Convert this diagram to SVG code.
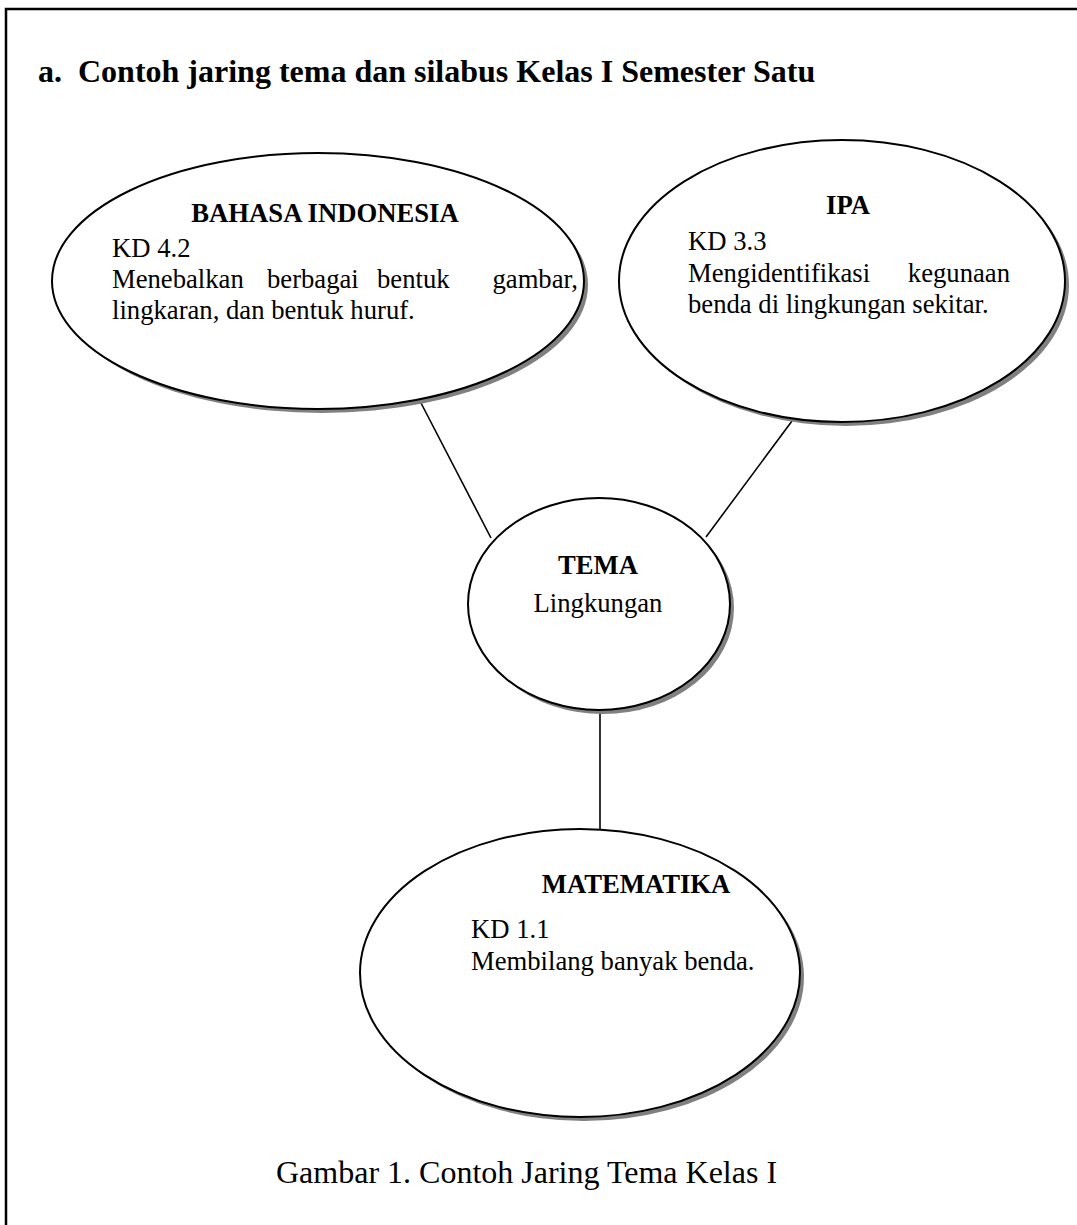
<svg xmlns="http://www.w3.org/2000/svg" width="1077" height="1225" viewBox="0 0 1077 1225">
<defs>
<style>
.t{font-family:"Liberation Serif","Times New Roman",serif;fill:#000}
.b{font-weight:bold;font-size:26.67px}
.r{font-size:26.67px}
.sh{fill:#808080;stroke:none}
.el{fill:#fff;stroke:#000;stroke-width:2}
.cn{stroke:#000;stroke-width:1.6;fill:none}
</style>
</defs>
<rect x="0" y="0" width="1077" height="1225" fill="#fff"/>
<path d="M6,1225 V9 H1077" fill="none" stroke="#000" stroke-width="2.5"/>
<text class="t" x="38" y="82" font-size="32" font-weight="bold" xml:space="preserve">a.  Contoh jaring tema dan silabus Kelas I Semester Satu</text>
<g id="connectors">
<line class="cn" x1="421" y1="403" x2="491" y2="538"/>
<line class="cn" x1="792" y1="421" x2="706" y2="537"/>
<line class="cn" x1="600" y1="710" x2="600" y2="829"/>
</g>
<g id="bahasa">
<ellipse class="sh" cx="322" cy="285" rx="266" ry="128"/>
<ellipse class="el" cx="318" cy="281" rx="266" ry="128"/>
<text class="t b" x="325" y="222" text-anchor="middle">BAHASA INDONESIA</text>
<text class="t r" x="112" y="257">KD 4.2</text>
<text class="t r" y="288"><tspan x="112">Menebalkan</tspan><tspan x="267">berbagai</tspan><tspan x="377">bentuk</tspan><tspan x="578" text-anchor="end">gambar,</tspan></text>
<text class="t r" x="112" y="319">lingkaran, dan bentuk huruf.</text>
</g>
<g id="ipa">
<ellipse class="sh" cx="846" cy="285" rx="223" ry="141"/>
<ellipse class="el" cx="842" cy="281" rx="223" ry="141"/>
<text class="t b" x="848" y="214" text-anchor="middle">IPA</text>
<text class="t r" x="688" y="250">KD 3.3</text>
<text class="t r" y="282"><tspan x="688">Mengidentifikasi</tspan><tspan x="1010" text-anchor="end">kegunaan</tspan></text>
<text class="t r" x="688" y="313">benda di lingkungan sekitar.</text>
</g>
<g id="tema">
<ellipse class="sh" cx="603" cy="608" rx="131" ry="106"/>
<ellipse class="el" cx="599" cy="604" rx="131" ry="106"/>
<text class="t b" x="598" y="574" text-anchor="middle">TEMA</text>
<text class="t r" x="598" y="612" text-anchor="middle">Lingkungan</text>
</g>
<g id="matematika">
<ellipse class="sh" cx="584" cy="977" rx="220" ry="144"/>
<ellipse class="el" cx="580" cy="973" rx="220" ry="144"/>
<text class="t b" x="636" y="893" text-anchor="middle">MATEMATIKA</text>
<text class="t r" x="471" y="938">KD 1.1</text>
<text class="t r" x="471" y="970">Membilang banyak benda.</text>
</g>
<text class="t" x="276" y="1183" font-size="32">Gambar 1. Contoh Jaring Tema Kelas I</text>
</svg>
